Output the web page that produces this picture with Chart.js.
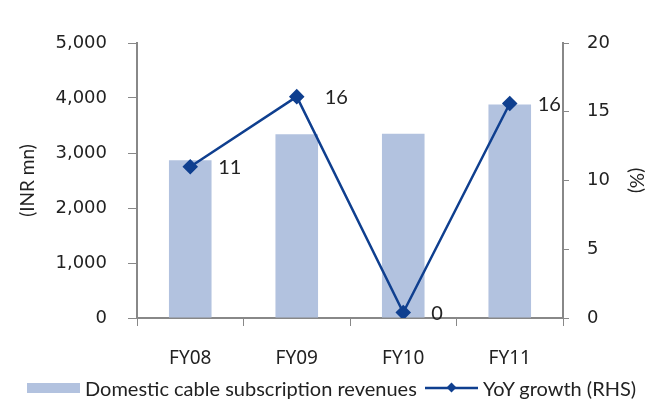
<!DOCTYPE html>
<html>
<head>
<meta charset="utf-8">
<script src="https://cdn.jsdelivr.net/npm/chart.js@4"></script>
<style>
  body { margin: 0; background: #fff; }
  #wrap { position: relative; width: 655px; height: 399px; }
  #legend { position: absolute; left: 0; top: 376px; width: 655px; height: 24px; font: 20px Lato, sans-serif; color: #222; white-space: nowrap; }
  #legend > * { position: absolute; }
  .box { left: 27px; top: 7px; width: 53px; height: 10px; background: #b2c2df; }
  .t1 { left: 85px; top: 0; line-height: 24px; }
  .ln { left: 425px; top: 6px; }
  .t2 { left: 483px; top: 0; line-height: 24px; }
</style>
</head>
<body>
<div id="wrap">
  <canvas id="c" width="655" height="399"></canvas>
  <div id="legend">
    <span class="box"></span><span class="t1">Domestic cable subscription revenues</span>
    <svg class="ln" width="53" height="12"><line x1="0" y1="6" x2="53" y2="6" stroke="#0f3f8f" stroke-width="2.5"/><rect x="23" y="2" width="7" height="7" fill="#0f3f8f" transform="rotate(45 26.5 5.5)"/></svg><span class="t2">YoY growth (RHS)</span>
  </div>
</div>
<script>
const categories = ['FY08', 'FY09', 'FY10', 'FY11'];
const revenues = [2870, 3340, 3350, 3880];
const yoyGrowth = [11.0, 16.1, 0.4, 15.6];
const leftTicks = [0, 1000, 2000, 3000, 4000, 5000];
const rightTicks = [0, 5, 10, 15, 20];

const axisColor = '#888';

const pointLabels = {
  id: 'pointLabels',
  afterDatasetsDraw(chart) {
    const ctx = chart.ctx;
    const meta = chart.getDatasetMeta(1);
    ctx.save();
    ctx.font = '20px Lato, sans-serif';
    ctx.fillStyle = '#222';
    ctx.textBaseline = 'middle';
    ctx.textAlign = 'left';
    meta.data.forEach((pt, i) => {
      ctx.fillText(Math.round(yoyGrowth[i]).toString(), pt.x + 28, pt.y + 1);
    });
    ctx.restore();
  }
};

new Chart(document.getElementById('c'), {
  data: {
    labels: categories,
    datasets: [
      {
        type: 'bar',
        label: 'Domestic cable subscription revenues',
        data: revenues,
        backgroundColor: '#b2c2df',
        yAxisID: 'y',
        categoryPercentage: 1,
        barPercentage: 0.4,
        order: 2
      },
      {
        type: 'line',
        label: 'YoY growth (RHS)',
        data: yoyGrowth,
        borderColor: '#0f3f8f',
        backgroundColor: '#0f3f8f',
        borderWidth: 2.5,
        pointStyle: 'rectRot',
        pointRadius: 6,
        pointHoverRadius: 6,
        yAxisID: 'y1',
        tension: 0,
        order: 1
      }
    ]
  },
  options: {
    responsive: false,
    animation: false,
    layout: { padding: { top: 43, bottom: 21, left: 0, right: 0 } },
    plugins: { legend: { display: false }, tooltip: { enabled: false } },
    scales: {
      x: {
        grid: { display: true, drawOnChartArea: false, drawTicks: true, tickLength: 8, color: axisColor, offset: true },
        border: { display: true, color: axisColor, width: 2 },
        ticks: { font: { family: 'Noto Sans', size: 19 }, color: '#222', padding: 21 },
        afterFit: s => { s.height = 60; }
      },
      y: {
        position: 'left',
        min: 0, max: 5000,
        afterBuildTicks: s => { s.ticks = leftTicks.map(v => ({ value: v })); },
        grid: { display: true, drawOnChartArea: false, drawTicks: true, tickLength: 9, color: axisColor },
        border: { display: true, color: axisColor, width: 2 },
        ticks: {
          font: { family: 'DejaVu Sans', size: 18 }, color: '#222', padding: 21,
          callback: v => v.toLocaleString('en-US')
        },
        title: { display: true, text: '(INR mn)', font: { family: 'Lato', size: 19 }, color: '#222', padding: { top: 16, bottom: 0 } },
        afterFit: s => { s.width = 137; }
      },
      y1: {
        position: 'right',
        min: 0, max: 20,
        afterBuildTicks: s => { s.ticks = rightTicks.map(v => ({ value: v })); },
        grid: { display: true, drawOnChartArea: false, drawTicks: true, tickLength: 6, color: axisColor },
        border: { display: true, color: axisColor, width: 2 },
        ticks: { font: { family: 'DejaVu Sans', size: 18 }, color: '#222', padding: 18 },
        title: { display: true, text: '(%)', font: { family: 'Lato', size: 19 }, color: '#222', padding: { top: 7, bottom: 0 } },
        afterFit: s => { s.width = 92; }
      }
    }
  },
  plugins: [pointLabels]
});
</script>
</body>
</html>
